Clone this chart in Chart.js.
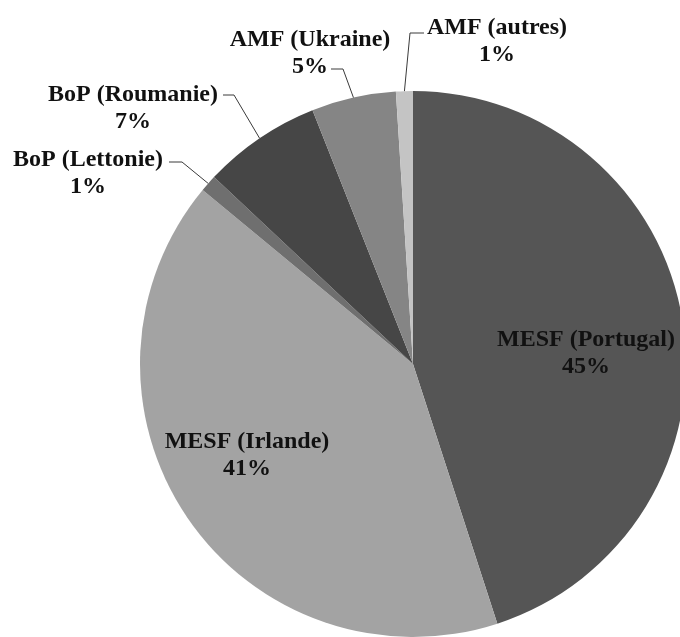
<!DOCTYPE html>
<html>
<head>
<meta charset="utf-8">
<script src="https://cdn.jsdelivr.net/npm/chart.js@4"></script>
<style>
  html, body { margin: 0; padding: 0; background: #fff; overflow: hidden; }
  #wrap { width: 700px; height: 637px; }
</style>
</head>
<body>
<div id="wrap"><canvas id="pie" width="700" height="637"></canvas></div>
<script>
const programmes = ['MESF (Portugal)', 'MESF (Irlande)', 'BoP (Lettonie)', 'BoP (Roumanie)', 'AMF (Ukraine)', 'AMF (autres)'];
const parts = [45, 41, 1, 7, 5, 1];
const shades = ['#555555', '#a3a3a3', '#6f6f6f', '#464646', '#858585', '#c4c4c4'];

// where each label sits: 'in' = centered in its slice, otherwise text anchor + leader elbow
const labelSpots = [
  { mode: 'in', x: 586, y: 340 },
  { mode: 'in', x: 247, y: 442 },
  { mode: 'out', x: 88, y: 160, from: [169, 162], elbow: [182, 162] },
  { mode: 'out', x: 133, y: 95, from: [223, 95], elbow: [234, 95] },
  { mode: 'out', x: 310, y: 40, from: [331, 69], elbow: [343, 69] },
  { mode: 'out', x: 497, y: 28, from: [424, 33], elbow: [410, 33] },
];

const sliceLabels = {
  id: 'sliceLabels',
  afterDatasetsDraw(chart) {
    const ctx = chart.ctx;
    const meta = chart.getDatasetMeta(0);
    const total = parts.reduce((a, b) => a + b, 0);
    ctx.save();
    ctx.font = 'bold 24px "Liberation Serif", serif';
    ctx.textAlign = 'center';
    ctx.textBaseline = 'middle';
    meta.data.forEach((arc, i) => {
      const spot = labelSpots[i];
      const pct = Math.round(parts[i] / total * 100) + '%';
      if (spot.mode === 'out') {
        // leader line ends on the rim at the middle of the slice
        const mid = (arc.startAngle + arc.endAngle) / 2;
        const ex = arc.x + Math.cos(mid) * arc.outerRadius;
        const ey = arc.y + Math.sin(mid) * arc.outerRadius;
        ctx.strokeStyle = '#3a3a3a';
        ctx.lineWidth = 1;
        ctx.beginPath();
        ctx.moveTo(spot.from[0], spot.from[1]);
        ctx.lineTo(spot.elbow[0], spot.elbow[1]);
        ctx.lineTo(ex, ey);
        ctx.stroke();
      }
      ctx.fillStyle = '#111';
      ctx.fillText(programmes[i], spot.x, spot.y);
      ctx.fillText(pct, spot.x, spot.y + 27);
    });
    ctx.restore();
  }
};

new Chart(document.getElementById('pie'), {
  type: 'pie',
  data: {
    labels: programmes,
    datasets: [{
      data: parts,
      backgroundColor: shades,
      borderWidth: 0,
    }]
  },
  options: {
    responsive: false,
    animation: false,
    layout: { padding: { left: 140, right: 14, top: 91, bottom: 0 } },
    plugins: {
      legend: { display: false },
      tooltip: { enabled: false },
    }
  },
  plugins: [sliceLabels]
});
</script>
</body>
</html>
